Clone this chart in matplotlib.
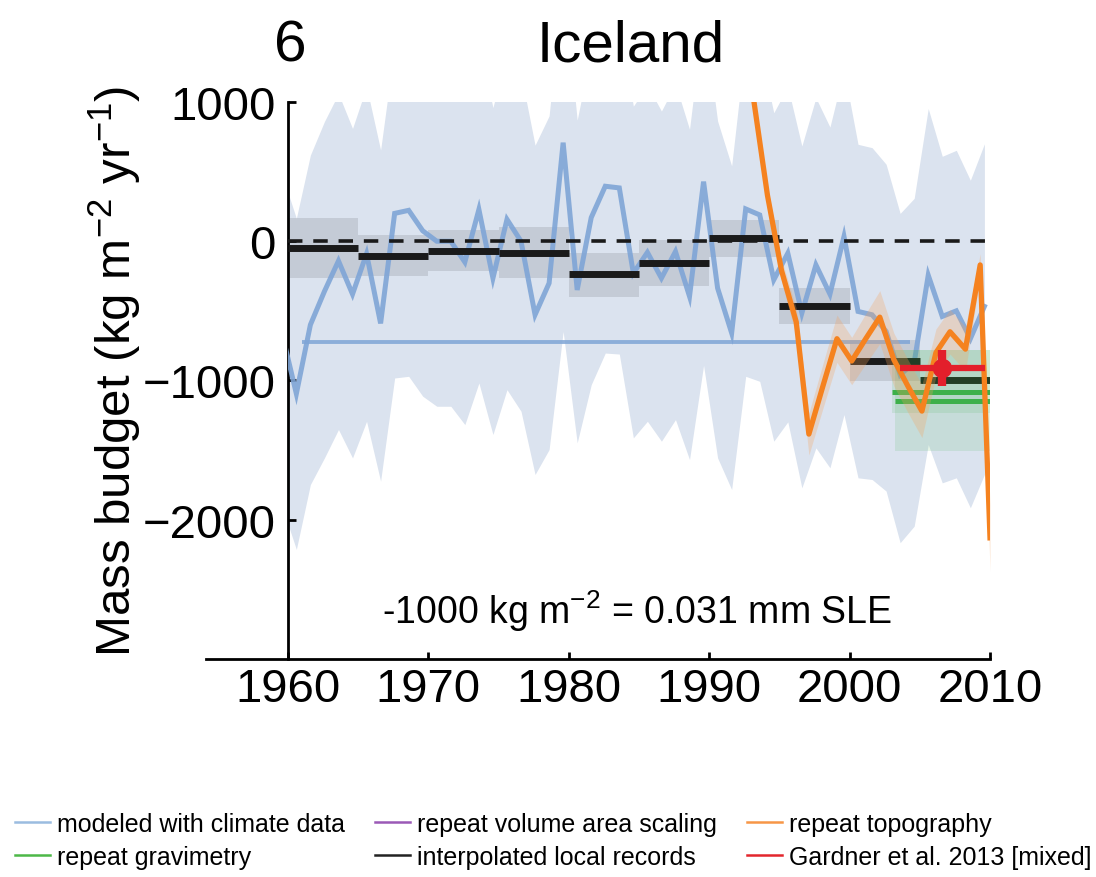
import numpy as np
import matplotlib
matplotlib.use("Agg")
import matplotlib.pyplot as plt
from matplotlib.patches import Rectangle
from matplotlib.lines import Line2D

plt.rcParams['font.family'] = ['Liberation Sans', 'DejaVu Sans']
plt.rcParams['mathtext.fontset'] = 'custom'
plt.rcParams['mathtext.rm'] = 'Liberation Sans'
plt.rcParams['mathtext.default'] = 'regular'

# modelled annual mass budget (climate data), one value per balance year
model_years = np.arange(1959, 2010)
model_mb = [-670, -1095, -600, -360, -141, -380, -90, -590, 200, 222,
            75, 0, 0, -150, 228, -265, 157, 0, -528, -301,
            708, -350, 170, 395, 383, -230, -80, -265, -74, -396,
            428, -337, -659, 232, 189, -277, -86, -516, -170, -380,
            34, -504, -528, -647, -960, -870, -244, -540, -500, -700,
            -468]
model_hi = [473, 165, 619, 860, 1060, 810, 1110, 655, 1400, 1420,
            1275, 1200, 1200, 1050, 1430, 960, 1360, 1200, 690, 900,
            1900, 870, 1370, 1600, 1580, 970, 1120, 935, 1130, 804,
            1630, 863, 541, 1430, 1390, 923, 1110, 684, 1030, 820,
            1230, 696, 672, 553, 200, 308, 953, 610, 653, 438,
            700]
model_lo = [-1908, -2213, -1747, -1556, -1352, -1556, -1293, -1723, -982, -970,
            -1113, -1185, -1185, -1317, -1018, -1388, -1066, -1221, -1675, -1496,
            -648, -1448, -1030, -803, -810, -1412, -1293, -1436, -1281, -1568,
            -891, -1556, -1783, -970, -1006, -1436, -1297, -1771, -1484, -1627,
            -1245, -1699, -1711, -1794, -2165, -2046, -1460, -1735, -1699, -1914,
            -1675]
model_mean = -722
model_mean_span = (1961.0, 2004.3)

# interpolated local records, 5-year bins
interp_start = [1960, 1965, 1970, 1975, 1980, 1985, 1990, 1995, 2000, 2005]
interp_mb = [-45, -105, -67, -81, -237, -155, 22, -464, -858, -996]
interp_hi = [165, 45, 81, 105, -81, 9, 153, -337, -707, np.nan]
interp_lo = [-265, -253, -217, -265, -397, -325, -110, -595, -1006, np.nan]

# repeat topography
topo_x = [1993.15, 1994.15, 1995.15, 1996.2, 1997.1, 1998.1, 1999.1, 2000.15, 2001.15,
          2002.15, 2003.15, 2004.15, 2005.15, 2006.15, 2007.15, 2008.25, 2009.3, 2010.0]
topo_mb = [1030, 330, -210, -580, -1385, -1040, -700, -860, -700,
           -545, -850, -1040, -1220, -800, -650, -775, -170, -2130]
topo_hi = [1090, 390, -130, -480, -1235, -880, -530, -690, -520,
           -355, -660, -850, -1030, -630, -490, -615, -90, -1890]
topo_lo = [970, 270, -290, -680, -1535, -1200, -870, -1030, -880,
           -735, -1040, -1230, -1410, -970, -810, -935, -250, -2370]

# repeat gravimetry
grace_start = [2003.0, 2003.25]
grace_end = [2010.0, 2010.0]
grace_mb = [-1083, -1144]
grace_hi = [-780, -780]
grace_lo = [-1235, -1505]

# Gardner et al. 2013
gardner_span = (2003.6, 2009.65)
gardner_mid = 2006.6
gardner_mb = -910
gardner_err = 131

c_model = '#7fa5d6'
c_band = '#dbe3ef'
c_topo = '#f5821f'
c_grace = '#3db04a'
c_gardner = '#e31f2b'

fig = plt.figure(figsize=(10.96, 8.78), dpi=100)
ax = fig.add_axes([0.1875, 0.2483, 0.7158, 0.6344])
ax.set_xlim(1954.13, 2010)
ax.set_ylim(-3000, 1000)

clip = Rectangle((1960, -3000), 50, 4000, transform=ax.transData)

x_model = model_years + 0.6
band = ax.fill_between(x_model, model_lo, model_hi, color=c_band, lw=0, zorder=1)
band.set_clip_path(clip)

# interpolated records: uncertainty boxes
for s, hi, lo in zip(interp_start, interp_hi, interp_lo):
    if np.isnan(hi):
        continue
    ax.fill_between([s, s + 5], lo, hi, color='black', alpha=0.1, lw=0, zorder=2)

line, = ax.plot(x_model, model_mb, color=c_model, lw=3.6, alpha=0.9, zorder=3,
                solid_joinstyle='miter')
line.set_clip_path(clip)
ax.hlines(model_mean, *model_mean_span, color=c_model, lw=2.8, alpha=0.85, zorder=3)

ax.hlines(interp_mb, interp_start, np.array(interp_start) + 5, color='#1a1a1a', lw=5, zorder=4)

ax.plot([1960, 2010], [0, 0], color='#1a1a1a', lw=2.6, dashes=(4, 3), zorder=5)

# gravimetry
for s, e, hi, lo in zip(grace_start, grace_end, grace_hi, grace_lo):
    ax.fill_between([s, e], lo, hi, color=c_grace, alpha=0.13, lw=0, zorder=5)
ax.hlines(grace_mb, grace_start, grace_end, color=c_grace, lw=3.6, zorder=6)

# repeat topography
ax.fill_between(topo_x, topo_lo, topo_hi, color='#f7a35c', alpha=0.28, lw=0, zorder=6)
ax.plot(topo_x, topo_mb, color=c_topo, lw=3.8, zorder=7)

# Gardner et al.
ax.hlines(gardner_mb, *gardner_span, color=c_gardner, lw=4.5, zorder=8)
ax.vlines(gardner_mid, gardner_mb - gardner_err, gardner_mb + gardner_err,
          color=c_gardner, lw=6, zorder=8)
ax.plot(gardner_mid, gardner_mb, 'o', color=c_gardner, ms=13, zorder=8)

# axes styling
for side in ['top', 'right']:
    ax.spines[side].set_visible(False)
ax.spines['left'].set_position(('data', 1960))
for side in ['left', 'bottom']:
    ax.spines[side].set_linewidth(2)
ax.set_xticks([1960, 1970, 1980, 1990, 2000, 2010])
ax.set_yticks([1000, 0, -1000, -2000])
ax.tick_params(axis='both', direction='in', width=2, labelsize=34)
ax.tick_params(axis='y', length=6, pad=9)
ax.tick_params(axis='x', length=5, pad=6)

fig.text(290 / 1096, 1 - 62 / 878, '6', fontsize=42, ha='center', va='baseline')
fig.text(631 / 1096, 1 - 62 / 878, 'Iceland', fontsize=42, ha='center', va='baseline')
fig.text(115 / 1096, 1 - 372 / 878, 'Mass budget (kg m$^{-2}$ yr$^{-1}$)', fontsize=35.5,
         rotation=90, ha='center', va='center')
ax.text(1984.9, -2650, '-1000 kg m$^{-2}$ = 0.031 mm SLE', fontsize=27,
        ha='center', va='center')

handles = [
    Line2D([], [], color='#9bbce0', lw=1.8, label='modeled with climate data'),
    Line2D([], [], color='#4db848', lw=1.8, label='repeat gravimetry'),
    Line2D([], [], color='#9b59b6', lw=1.8, label='repeat volume area scaling'),
    Line2D([], [], color='#222222', lw=1.8, label='interpolated local records'),
    Line2D([], [], color='#f79646', lw=1.8, label='repeat topography'),
    Line2D([], [], color='#e3262d', lw=1.8, label='Gardner et al. 2013 [mixed]'),
]
fig.legend(handles=handles, ncol=3, loc='upper left', bbox_to_anchor=(15 / 1096, 1 - 813 / 878),
           frameon=False, fontsize=18, handlelength=1.4, handletextpad=0.28,
           columnspacing=1.2, labelspacing=0.36, borderpad=0, borderaxespad=0)

fig.savefig('out.png', dpi=100)
